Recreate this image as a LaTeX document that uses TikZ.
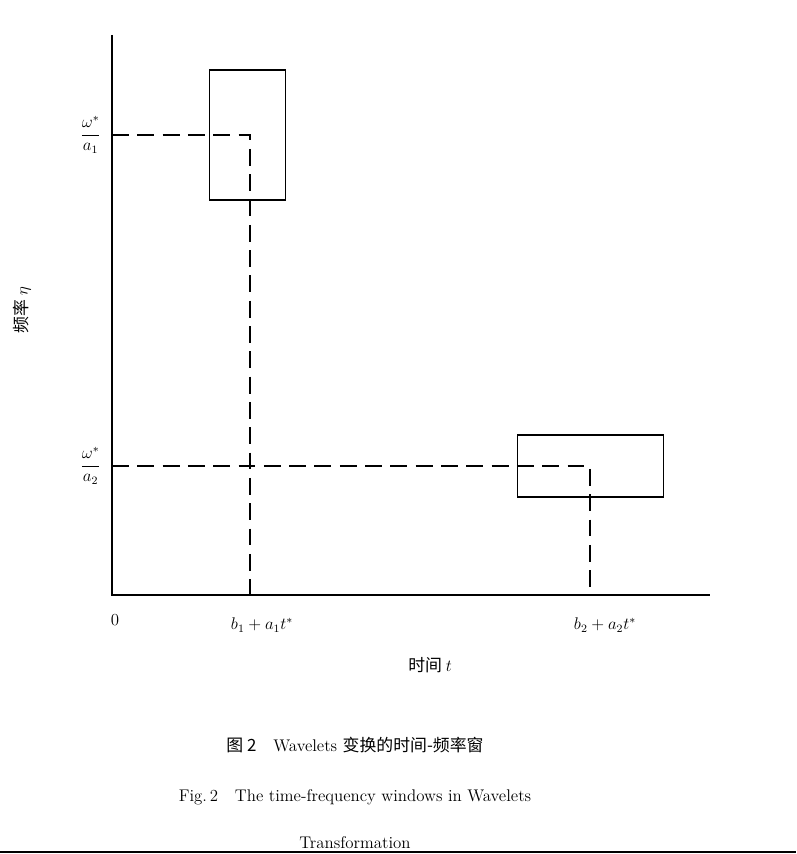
\documentclass[tikz,border=0pt]{standalone}
\usepackage{amsmath}
\usepackage{fontspec}
\newfontfamily\cjk{Noto Sans CJK SC}
\usetikzlibrary{positioning}
\begin{document}
\begin{tikzpicture}[x=0.025cm, y=-0.025cm, thick]

  % Styles
  \tikzstyle{win}=[rectangle, draw, thick, inner sep=0pt]
  \tikzstyle{guide}=[dashed, dash pattern=on 12pt off 6pt, thick]
  \tikzstyle{lab}=[font=\large]

  \useasboundingbox (0,0) rectangle (796,854);

  % Axes
  \coordinate (orig) at (112,595);
  \draw (112,35) -- (orig) -- (710,595);

  % Windows
  \node[win, minimum width=1.9cm, minimum height=3.25cm] (w_1) at (247.5,135) {};
  \node[win, minimum width=3.65cm, minimum height=1.55cm] (w_2) at (590.5,466) {};

  % Guide points
  \coordinate (c_1) at (250,135);
  \coordinate (c_2) at (590,466);
  \coordinate (y_1) at (112,135);
  \coordinate (y_2) at (112,466);
  \coordinate (x_1) at (250,595);
  \coordinate (x_2) at (590,595);

  % Dashed guides
  \draw[guide] (y_1) -- (c_1) -- (x_1);
  \draw[guide] (y_2) -- (c_2) -- (x_2);

  % Axis labels
  \node[lab, left=4pt of y_1] {$\dfrac{\omega^{*}}{a_1}$};
  \node[lab, left=4pt of y_2] {$\dfrac{\omega^{*}}{a_2}$};
  \node[lab] (zero) at (115,620) {0};
  \node[lab] (b_1) at (262,625) {$b_1+a_1t^{*}$};
  \node[lab] (b_2) at (605,625) {$b_2+a_2t^{*}$};
  \node[lab] (xlab) at (430,665) {\cjk 时间 \rm $t$};
  \node[lab, rotate=90] (ylab) at (22,310) {\cjk 频率 \rm $\eta$};

  % Caption
  \node[lab] (cap_1) at (355,745) {\cjk 图 2\quad \rm Wavelets \cjk 变换的时间-频率窗};
  \node[lab] (cap_2) at (355,797) {Fig.\,2\quad The time-frequency windows in Wavelets};
  \node[lab] (cap_3) at (355,843) {Transformation};
  \draw (0,852) -- (796,852);

\end{tikzpicture}
\end{document}
